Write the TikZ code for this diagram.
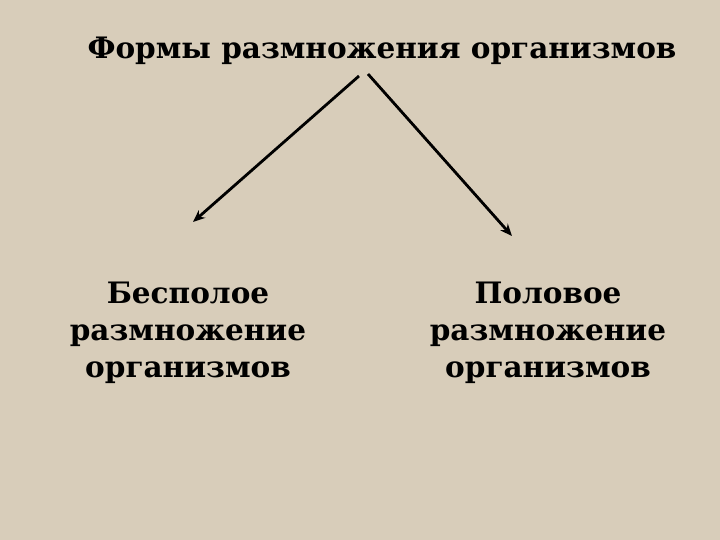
\documentclass[tikz,border=0pt]{standalone}
\usepackage{fontspec}
\setmainfont{DejaVu Serif}
\usetikzlibrary{arrows.meta}
\definecolor{bg}{RGB}{216,205,186}
\tikzset{
  lbl/.style={font=\bfseries\fontsize{29.5}{37}\selectfont, align=center, text=black, inner sep=0pt},
  conn/.style={line width=2.8pt, -{Stealth[length=12pt,width=10pt]}, black}
}
\begin{document}
\begin{tikzpicture}[x=1pt,y=-1pt]
\fill[bg] (0,0) rectangle (720,540);
\useasboundingbox (0,0) rectangle (720,540);
\node[lbl] (title) at (382,51) {Формы размножения организмов};
\node[lbl] (left) at (188,333) {Бесполое\\размножение\\организмов};
\node[lbl] (right) at (548,333) {Половое\\размножение\\организмов};
\coordinate (sl) at (359,76);
\coordinate (sr) at (368,74);
\coordinate (el) at (193,222);
\coordinate (er) at (512,236);
\draw[conn] (sl) -- (el);
\draw[conn] (sr) -- (er);
\end{tikzpicture}
\end{document}
